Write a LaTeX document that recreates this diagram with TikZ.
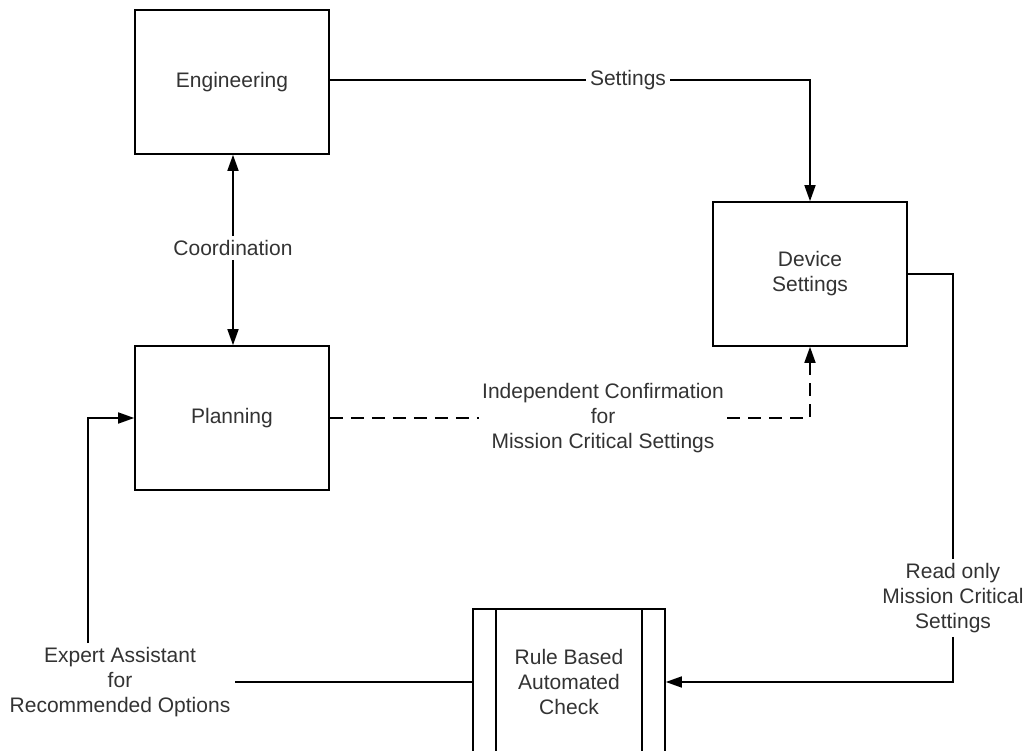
\documentclass[tikz,border=0pt]{standalone}
\usepackage{fontspec}
\setmainfont{Liberation Sans}
\usetikzlibrary{arrows.meta}
\begin{document}
\begin{tikzpicture}[x=1pt,y=-1pt,
  every node/.style={font=\fontsize{21}{25}\selectfont, text=black!80, align=center},
  box/.style={draw=black, line width=1.6pt, minimum width=194pt, minimum height=144pt, inner sep=0pt},
  lbl/.style={inner sep=4pt},
  conn/.style={draw=black, line width=1.6pt},
  arr/.style={conn, -{Triangle[length=16pt,width=11pt]}},
  dsh/.style={dash pattern=on 13pt off 8pt}]
\useasboundingbox (0,0) rectangle (1026,751);
\clip (0,0) rectangle (1026,751);
\fill[white] (0,0) rectangle (1026,751);
% boxes
\node[box] (eng) at (232,82) {Engineering};
\node[box] (plan) at (232,418) {Planning};
\node[box] (dev) at (810,274) {Device\\Settings};
\node[box, minimum width=192pt, minimum height=146pt] (rule) at (569,682) {Rule Based\\Automated\\Check};
\draw[conn] ([xshift=24pt]rule.north west) -- ([xshift=24pt]rule.south west);
\draw[conn] ([xshift=-24pt]rule.north east) -- ([xshift=-24pt]rule.south east);
% labels
\node[lbl] (settings) at (628,80) {Settings};
\node[lbl] (coord) at (233,248) {Coordination};
\node[lbl, inner sep=3pt] (indep) at (603,418) {Independent Confirmation\\for\\Mission Critical Settings};
\node[lbl] (readonly) at (953,598) {Read only\\Mission Critical\\Settings};
\node[lbl] (expert) at (120,682) {Expert Assistant\\for\\Recommended Options};
% connectors
\draw[conn] (eng.east |- settings) -- (settings.west);
\draw[arr] (settings.east) -| (dev.north);
\draw[arr] (coord.north) -- (eng.south -| coord);
\draw[arr] (coord.south) -- (plan.north -| coord);
\draw[conn, dsh] (plan.east) -- (indep.west);
\draw[arr, dsh] (indep.east) -| (dev.south);
\draw[conn] (dev.east) -| (readonly.north);
\draw[arr] (readonly.south) |- (rule.east);
\draw[conn] (rule.west) -- (expert.east);
\coordinate (exptop) at ([xshift=-32pt]expert.north);
\draw[arr] (exptop) |- (plan.west);
\end{tikzpicture}
\end{document}
